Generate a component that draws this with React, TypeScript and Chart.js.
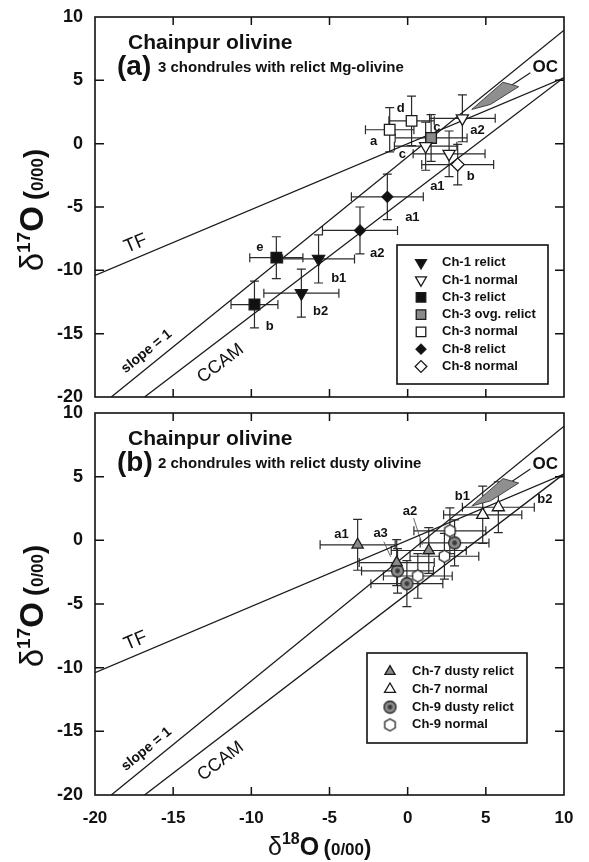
import React, { useEffect, useRef } from "react";
import { Chart, registerables } from "chart.js";
import { drawPoint } from "chart.js/helpers";

Chart.register(...registerables);

const FONT = "Arial, 'Liberation Sans', Helvetica, sans-serif";
const AXIS_MIN = -20;
const AXIS_MAX = 10;
const TICK_STEP = 5;
const tickValues = [-20, -15, -10, -5, 0, 5, 10];

// Reference lines (δ18O, δ17O)
const tfX = [-20, 10];
const tfY = [-10.4, 5.2];
const slopeOneX = [-18.96, 10];
const slopeOneY = [-20, 8.96];
const ccamX = [-16.83, 10];
const ccamY = [-20, 5.22];
const ocFieldX = [4.1, 6.1, 7.1, 5.3, 4.1];
const ocFieldY = [2.7, 4.85, 4.5, 3.1, 2.7];
const ocLeaderX = [6.45, 7.85];
const ocLeaderY = [4.45, 5.6];

// Panel (a)
const ch1RelictX = [-5.7, -6.8];
const ch1RelictY = [-9.1, -11.8];
const ch1RelictXErr = [2.3, 2.4];
const ch1RelictYErr = [1.9, 1.9];
const ch1NormalX = [1.15, 3.5, 2.65];
const ch1NormalY = [-0.2, 2.0, -0.8];
const ch1NormalXErr = [2.0, 2.1, 2.3];
const ch1NormalYErr = [1.9, 1.85, 1.8];
const ch3RelictX = [-8.4, -9.8];
const ch3RelictY = [-9.0, -12.7];
const ch3RelictXErr = [1.7, 1.5];
const ch3RelictYErr = [1.65, 1.85];
const ch3OvgX = [1.5];
const ch3OvgY = [0.45];
const ch3OvgXErr = [2.3];
const ch3OvgYErr = [1.85];
const ch3NormalX = [-1.15, 0.25];
const ch3NormalY = [1.1, 1.8];
const ch3NormalXErr = [1.55, 1.45];
const ch3NormalYErr = [1.75, 1.95];
const ch8RelictX = [-1.3, -3.05];
const ch8RelictY = [-4.2, -6.85];
const ch8RelictXErr = [2.3, 2.4];
const ch8RelictYErr = [1.8, 1.85];
const ch8NormalX = [3.2];
const ch8NormalY = [-1.65];
const ch8NormalXErr = [2.3];
const ch8NormalYErr = [1.6];

const aLabelText = ["d", "a", "c", "c", "a2", "b", "a1", "a1", "a2", "b1", "b2", "b", "e"];
const aLabelX = [-0.45, -2.18, -0.34, 1.86, 4.46, 4.03, 1.9, 0.3, -1.94, -4.41, -5.57, -8.83, -9.45];
const aLabelY = [2.76, 0.16, -0.87, 1.29, 1.03, -2.6, -3.4, -5.82, -8.7, -10.63, -13.24, -14.42, -8.18];

// Panel (b)
const ch7DustyX = [-3.2, 1.35, -0.7];
const ch7DustyY = [-0.35, -0.8, -1.75];
const ch7DustyXErr = [2.4, 2.4, 2.4];
const ch7DustyYErr = [2.0, 1.8, 1.8];
const ch7NormalX = [4.8, 5.8];
const ch7NormalY = [2.0, 2.6];
const ch7NormalXErr = [2.5, 2.3];
const ch7NormalYErr = [2.25, 2.0];
const ch9DustyX = [3.0, -0.65, -0.05];
const ch9DustyY = [-0.2, -2.4, -3.4];
const ch9DustyXErr = [2.2, 2.3, 2.3];
const ch9DustyYErr = [1.8, 1.75, 1.8];
const ch9NormalX = [2.7, 2.35, 0.65];
const ch9NormalY = [0.75, -1.25, -2.8];
const ch9NormalXErr = [2.3, 2.2, 2.2];
const ch9NormalYErr = [1.8, 1.8, 1.75];

const bLabelText = ["a1", "a3", "a2", "b1", "b2"];
const bLabelX = [-4.24, -1.73, 0.15, 3.5, 8.78];
const bLabelY = [0.47, 0.57, 2.25, 3.48, 3.22];
const bLeaderA3X = [-1.52, -1.09];
const bLeaderA3Y = [-0.11, -1.29];
const bLeaderA2X = [0.38, 0.94];
const bLeaderA2Y = [1.75, -0.37];

// line name labels
const lineLabelText = ["TF", "slope = 1", "CCAM"];
const lineLabelX = [-17.4, -16.7, -11.96];
const lineLabelY = [-7.9, -16.4, -17.35];

const pts = (xs: number[], ys: number[]) => xs.map((x, i) => ({ x, y: ys[i] }));

function makeHexagon() {
  const c = document.createElement("canvas");
  c.width = 15; c.height = 15;
  const g = c.getContext("2d")!;
  g.beginPath();
  for (let i = 0; i < 6; i++) {
    const a = Math.PI / 6 + (i * Math.PI) / 3;
    const px = 7.5 + 6 * Math.cos(a), py = 7.5 + 6 * Math.sin(a);
    if (i === 0) g.moveTo(px, py); else g.lineTo(px, py);
  }
  g.closePath();
  g.fillStyle = "#fff"; g.fill();
  g.strokeStyle = "#222"; g.lineWidth = 1.3; g.stroke();
  return c;
}

function makeDotCircle() {
  const c = document.createElement("canvas");
  c.width = 15; c.height = 15;
  const g = c.getContext("2d")!;
  g.beginPath(); g.arc(7.5, 7.5, 6, 0, Math.PI * 2);
  g.fillStyle = "#8c8c8c"; g.fill();
  g.strokeStyle = "#222"; g.lineWidth = 1.3; g.stroke();
  g.beginPath(); g.arc(7.5, 7.5, 2.4, 0, Math.PI * 2);
  g.fillStyle = "#3a3a3a"; g.fill();
  return c;
}

type Seg = { t: string; font: string; dy: number };
function drawRich(ctx: CanvasRenderingContext2D, segs: Seg[], x: number, y: number) {
  let cx = x;
  for (const s of segs) {
    ctx.font = s.font;
    ctx.fillText(s.t, cx, y + s.dy);
    cx += ctx.measureText(s.t).width;
  }
  return cx - x;
}
function richWidth(ctx: CanvasRenderingContext2D, segs: Seg[]) {
  let w = 0;
  for (const s of segs) { ctx.font = s.font; w += ctx.measureText(s.t).width; }
  return w;
}

function series(label: string, xs: number[], ys: number[], xe: number[], ye: number[], style: any, rotation: number, radius: number, fill: string) {
  return {
    label,
    data: pts(xs, ys),
    xErr: xe,
    yErr: ye,
    showLine: false,
    pointStyle: style,
    pointRotation: rotation,
    pointRadius: radius,
    pointBackgroundColor: fill,
    pointBorderColor: "#1a1a1a",
    pointBorderWidth: 1.3,
    order: 0,
  };
}

function lineSet(xs: number[], ys: number[], width = 1.3, color = "#1a1a1a") {
  return {
    label: "",
    data: pts(xs, ys),
    showLine: true,
    pointRadius: 0,
    borderColor: color,
    borderWidth: width,
    fill: false,
    order: 20,
  };
}

function buildConfig(bottom: boolean, images: any) {
  const refLines: any[] = [
    lineSet(tfX, tfY),
    lineSet(slopeOneX, slopeOneY),
    lineSet(ccamX, ccamY),
    {
      label: "", data: pts(ocFieldX, ocFieldY), showLine: true, pointRadius: 0,
      borderColor: "#444", borderWidth: 1, backgroundColor: "#8f8f8f", fill: "shape", order: 19,
    },
    lineSet(ocLeaderX, ocLeaderY, 1.1),
  ];
  let pointSets: any[];
  if (!bottom) {
    pointSets = [
      series("Ch-1 relict", ch1RelictX, ch1RelictY, ch1RelictXErr, ch1RelictYErr, "triangle", 180, 7, "#111"),
      series("Ch-1 normal", ch1NormalX, ch1NormalY, ch1NormalXErr, ch1NormalYErr, "triangle", 180, 7, "#fff"),
      series("Ch-3 relict", ch3RelictX, ch3RelictY, ch3RelictXErr, ch3RelictYErr, "rect", 0, 7.5, "#111"),
      series("Ch-3 ovg. relict", ch3OvgX, ch3OvgY, ch3OvgXErr, ch3OvgYErr, "rect", 0, 7.5, "#8a8a8a"),
      series("Ch-3 normal", ch3NormalX, ch3NormalY, ch3NormalXErr, ch3NormalYErr, "rect", 0, 7.5, "#fff"),
      series("Ch-8 relict", ch8RelictX, ch8RelictY, ch8RelictXErr, ch8RelictYErr, "rectRot", 0, 5.5, "#111"),
      series("Ch-8 normal", ch8NormalX, ch8NormalY, ch8NormalXErr, ch8NormalYErr, "rectRot", 0, 6.5, "#fff"),
    ];
  } else {
    refLines.push(lineSet(bLeaderA3X, bLeaderA3Y, 0.9, "#555"));
    refLines.push(lineSet(bLeaderA2X, bLeaderA2Y, 0.9, "#555"));
    pointSets = [
      series("Ch-7 dusty relict", ch7DustyX, ch7DustyY, ch7DustyXErr, ch7DustyYErr, "triangle", 0, 6.5, "#8a8a8a"),
      series("Ch-7 normal", ch7NormalX, ch7NormalY, ch7NormalXErr, ch7NormalYErr, "triangle", 0, 7, "#fff"),
      series("Ch-9 dusty relict", ch9DustyX, ch9DustyY, ch9DustyXErr, ch9DustyYErr, images.dotCircle, 0, 6, "#8c8c8c"),
      series("Ch-9 normal", ch9NormalX, ch9NormalY, ch9NormalXErr, ch9NormalYErr, images.hexagon, 0, 6, "#fff"),
    ];
  }

  const labelText = bottom ? bLabelText : aLabelText;
  const labelX = bottom ? bLabelX : aLabelX;
  const labelY = bottom ? bLabelY : aLabelY;

  const errorBars = {
    id: "errorBars",
    beforeDatasetsDraw(chart: any) {
      const ctx = chart.ctx as CanvasRenderingContext2D;
      const xs = chart.scales.x, ys = chart.scales.y;
      ctx.save();
      ctx.strokeStyle = "#2a2a2a";
      ctx.lineWidth = 1.2;
      const cap = 4.5;
      chart.data.datasets.forEach((ds: any) => {
        if (!ds.xErr) return;
        ds.data.forEach((p: any, i: number) => {
          const cx = xs.getPixelForValue(p.x), cy = ys.getPixelForValue(p.y);
          const x1 = xs.getPixelForValue(p.x - ds.xErr[i]), x2 = xs.getPixelForValue(p.x + ds.xErr[i]);
          const y1 = ys.getPixelForValue(p.y - ds.yErr[i]), y2 = ys.getPixelForValue(p.y + ds.yErr[i]);
          ctx.beginPath();
          ctx.moveTo(x1, cy); ctx.lineTo(x2, cy);
          ctx.moveTo(x1, cy - cap); ctx.lineTo(x1, cy + cap);
          ctx.moveTo(x2, cy - cap); ctx.lineTo(x2, cy + cap);
          ctx.moveTo(cx, y1); ctx.lineTo(cx, y2);
          ctx.moveTo(cx - cap, y1); ctx.lineTo(cx + cap, y1);
          ctx.moveTo(cx - cap, y2); ctx.lineTo(cx + cap, y2);
          ctx.stroke();
        });
      });
      ctx.restore();
    },
  };

  const decor = {
    id: "decor",
    afterDraw(chart: any) {
      const ctx = chart.ctx as CanvasRenderingContext2D;
      const ca = chart.chartArea;
      const xs = chart.scales.x, ys = chart.scales.y;
      ctx.save();
      ctx.fillStyle = "#111";
      ctx.strokeStyle = "#111";

      // frame
      ctx.lineWidth = 1.6;
      ctx.strokeRect(ca.left, ca.top, ca.right - ca.left, ca.bottom - ca.top);
      // inward ticks
      ctx.lineWidth = 1.5;
      ctx.beginPath();
      tickValues.slice(1, -1).forEach((v) => {
        const px = xs.getPixelForValue(v);
        ctx.moveTo(px, ca.bottom); ctx.lineTo(px, ca.bottom - 8);
        ctx.moveTo(px, ca.top); ctx.lineTo(px, ca.top + 8);
        const py = ys.getPixelForValue(v);
        ctx.moveTo(ca.left, py); ctx.lineTo(ca.left + 9, py);
        ctx.moveTo(ca.right, py); ctx.lineTo(ca.right - 9, py);
      });
      ctx.stroke();

      // point labels
      ctx.font = `bold 13px ${FONT}`;
      ctx.textAlign = "center";
      ctx.textBaseline = "middle";
      labelText.forEach((t, i) => {
        ctx.fillText(t, xs.getPixelForValue(labelX[i]), ys.getPixelForValue(labelY[i]));
      });
      // OC label
      ctx.font = `bold 17px ${FONT}`;
      ctx.fillText("OC", xs.getPixelForValue(8.8), ys.getPixelForValue(6.0));

      // line labels along the lines
      const lineDefs = [[tfX, tfY], [slopeOneX, slopeOneY], [ccamX, ccamY]];
      const lineFonts = [`19px ${FONT}`, `bold 14px ${FONT}`, `18px ${FONT}`];
      lineLabelText.forEach((t, i) => {
        const [lx, ly] = lineDefs[i];
        const ang = Math.atan2(
          ys.getPixelForValue(ly[1]) - ys.getPixelForValue(ly[0]),
          xs.getPixelForValue(lx[1]) - xs.getPixelForValue(lx[0])
        );
        ctx.save();
        ctx.translate(xs.getPixelForValue(lineLabelX[i]), ys.getPixelForValue(lineLabelY[i]));
        ctx.rotate(ang);
        ctx.font = lineFonts[i];
        ctx.fillText(t, 0, 0);
        ctx.restore();
      });

      // titles
      ctx.textAlign = "left";
      ctx.textBaseline = "alphabetic";
      ctx.font = `bold 21px ${FONT}`;
      ctx.fillText("Chainpur olivine", ca.left + 33, ca.top + 32);
      ctx.font = `bold 28px ${FONT}`;
      ctx.fillText(bottom ? "(b)" : "(a)", ca.left + 22, ca.top + 58);
      ctx.font = `bold 15px ${FONT}`;
      ctx.fillText(
        bottom ? "2 chondrules with relict dusty olivine" : "3 chondrules with relict Mg-olivine",
        ca.left + 63, ca.top + 55
      );

      // y-axis title
      const ySegs: Seg[] = [
        { t: "δ", font: `33px ${FONT}`, dy: 0 },
        { t: "17", font: `bold 19px ${FONT}`, dy: -13 },
        { t: "O", font: `bold 33px ${FONT}`, dy: 0 },
        { t: " ", font: `bold 22px ${FONT}`, dy: 0 },
        { t: "(", font: `bold 27px ${FONT}`, dy: 0 },
        { t: "0/00", font: `bold 17px ${FONT}`, dy: 0 },
        { t: ")", font: `bold 27px ${FONT}`, dy: 0 },
      ];
      const yw = richWidth(ctx, ySegs);
      ctx.save();
      ctx.translate(43, ca.top + 132 + yw);
      ctx.rotate(-Math.PI / 2);
      drawRich(ctx, ySegs, 0, 0);
      ctx.restore();

      // x-axis title
      if (bottom) {
        const xSegs: Seg[] = [
          { t: "δ", font: `25px ${FONT}`, dy: 0 },
          { t: "18", font: `bold 16px ${FONT}`, dy: -11 },
          { t: "O", font: `bold 25px ${FONT}`, dy: 0 },
          { t: " ", font: `bold 16px ${FONT}`, dy: 0 },
          { t: "(", font: `bold 22px ${FONT}`, dy: 0 },
          { t: "0/00", font: `bold 17px ${FONT}`, dy: 0 },
          { t: ")", font: `bold 22px ${FONT}`, dy: 0 },
        ];
        drawRich(ctx, xSegs, ca.left + 173, ca.bottom + 60);
      }

      // legend
      const dsPoints = chart.data.datasets.filter((d: any) => d.xErr);
      const box = bottom
        ? { x: ca.left + 272, y: ca.top + 240, w: 160, h: 90, row0: 18.5, step: 17.8, sx: 23, tx: 45 }
        : { x: ca.left + 302, y: ca.top + 228, w: 151, h: 139, row0: 17.7, step: 17.3, sx: 24, tx: 45 };
      ctx.fillStyle = "#fff";
      ctx.fillRect(box.x, box.y, box.w, box.h);
      ctx.lineWidth = 1.6;
      ctx.strokeStyle = "#111";
      ctx.strokeRect(box.x, box.y, box.w, box.h);
      dsPoints.forEach((d: any, i: number) => {
        const ry = box.y + box.row0 + i * box.step;
        ctx.fillStyle = d.pointBackgroundColor;
        ctx.strokeStyle = d.pointBorderColor;
        ctx.lineWidth = d.pointBorderWidth;
        drawPoint(ctx, {
          pointStyle: d.pointStyle,
          rotation: d.pointRotation,
          radius: d.pointRadius * 0.9,
          borderWidth: d.pointBorderWidth,
        } as any, box.x + box.sx, ry);
        ctx.fillStyle = "#111";
        ctx.font = `bold 13px ${FONT}`;
        ctx.textAlign = "left";
        ctx.textBaseline = "middle";
        ctx.fillText(d.label, box.x + box.tx, ry);
      });
      ctx.restore();
    },
  };

  return {
    type: "scatter",
    data: { datasets: [...refLines, ...pointSets] },
    options: {
      animation: false,
      responsive: false,
      events: [],
      layout: { padding: { left: 8, right: 25, top: bottom ? 413 : 17, bottom: bottom ? 27 : 465 } },
      plugins: { legend: { display: false }, tooltip: { enabled: false }, title: { display: false } },
      scales: {
        x: {
          type: "linear",
          position: "bottom",
          min: AXIS_MIN,
          max: AXIS_MAX,
          ticks: { stepSize: TICK_STEP, display: bottom, padding: 13, color: "#111", font: { family: FONT, size: 17, weight: "bold" } },
          grid: { display: false, drawTicks: false },
          border: { display: false },
          afterFit: (s: any) => { s.height = bottom ? 40 : 0; s.paddingLeft = 0; s.paddingRight = 0; },
        },
        y: {
          type: "linear",
          position: "left",
          min: AXIS_MIN,
          max: AXIS_MAX,
          ticks: { stepSize: TICK_STEP, padding: 12, color: "#111", font: { family: FONT, size: 18, weight: "bold" } },
          grid: { display: false, drawTicks: false },
          border: { display: false },
          afterFit: (s: any) => { s.width = 87; s.paddingTop = 0; s.paddingBottom = 0; },
        },
      },
    },
    plugins: [errorBars, decor],
  };
}

export default function App() {
  const refA = useRef<HTMLCanvasElement>(null);
  const refB = useRef<HTMLCanvasElement>(null);
  useEffect(() => {
    const images = { hexagon: makeHexagon(), dotCircle: makeDotCircle() };
    const a = new Chart(refA.current as HTMLCanvasElement, buildConfig(false, images) as any);
    const b = new Chart(refB.current as HTMLCanvasElement, buildConfig(true, images) as any);
    return () => { a.destroy(); b.destroy(); };
  }, []);
  const cs: React.CSSProperties = { position: "absolute", left: 0, top: 0, width: 589, height: 862 };
  return (
    <div style={{ position: "absolute", left: 0, top: 0, width: 589, height: 862, background: "#fff" }}>
      <canvas ref={refA} width={589} height={862} style={cs} />
      <canvas ref={refB} width={589} height={862} style={cs} />
    </div>
  );
}
